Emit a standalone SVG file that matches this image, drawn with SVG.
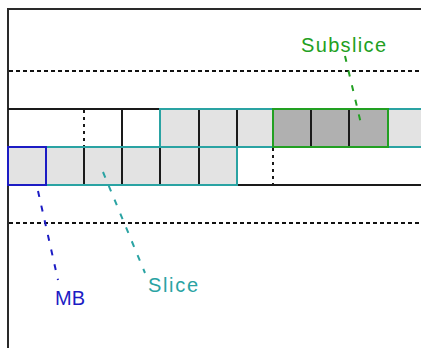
<svg xmlns="http://www.w3.org/2000/svg" width="421" height="348" viewBox="0 0 421 348">
  <style>
    .frame { fill: none; stroke: #2a2a2a; stroke-width: 2; }
    .grid { fill: none; stroke: #111; stroke-width: 2; stroke-dasharray: 4 3; }
    .div { stroke: #1a1a1a; stroke-width: 2; }
    .ddiv { stroke: #1a1a1a; stroke-width: 2; stroke-dasharray: 3 4; }
    .light { fill: #e3e3e3; }
    .dark { fill: #b0b0b0; }
    .slice { fill: none; stroke: #2aa3a3; stroke-width: 2; }
    .mb { fill: none; stroke: #1c1cc4; stroke-width: 2; }
    .sub { fill: none; stroke: #22a022; stroke-width: 2; }
    .lead { fill: none; stroke-width: 2; stroke-dasharray: 6 9; }
    .lbl { font-family: "Liberation Sans", Arial, sans-serif; font-size: 20px; }
  </style>

  <!-- frame and row guides -->
  <g id="frame">
    <path class="frame" d="M8 348 V9 H421"/>
    <line class="grid" x1="9" y1="71" x2="421" y2="71"/>
    <line class="grid" x1="9" y1="223" x2="421" y2="223"/>
  </g>

  <!-- upper row of macroblocks -->
  <g id="row1">
    <line class="div" x1="8" y1="109" x2="160" y2="109"/>
    <line class="ddiv" x1="84" y1="110" x2="84" y2="147"/>
    <line class="div" x1="122" y1="109" x2="122" y2="147"/>
    <rect class="light" x="160" y="109" width="261" height="38"/>
    <rect class="dark" x="273" y="109" width="115" height="38"/>
    <line class="div" x1="199" y1="109" x2="199" y2="147"/>
    <line class="div" x1="237" y1="109" x2="237" y2="147"/>
    <line class="div" x1="311" y1="109" x2="311" y2="147"/>
    <line class="div" x1="349" y1="109" x2="349" y2="147"/>
  </g>

  <!-- slice in the upper row -->
  <g id="slice-upper">
    <path class="slice" d="M422 109 H160 V147 H422"/>
  </g>

  <!-- subslice -->
  <g id="subslice">
    <rect class="sub" x="273" y="109" width="115" height="38"/>
  </g>

  <!-- lower row of macroblocks -->
  <g id="row2">
    <rect class="light" x="8" y="147" width="229" height="38"/>
    <line class="div" x1="84" y1="147" x2="84" y2="185"/>
    <line class="div" x1="122" y1="147" x2="122" y2="185"/>
    <line class="div" x1="160" y1="147" x2="160" y2="185"/>
    <line class="div" x1="199" y1="147" x2="199" y2="185"/>
    <line class="ddiv" x1="273" y1="148" x2="273" y2="185"/>
    <line class="div" x1="237" y1="185" x2="421" y2="185"/>
  </g>

  <!-- slice in the lower row -->
  <g id="slice-lower">
    <rect class="slice" x="46" y="147" width="191" height="38"/>
  </g>

  <!-- single macroblock -->
  <g id="mb">
    <rect class="mb" x="8" y="147" width="38" height="38"/>
  </g>

  <!-- label leaders -->
  <g id="connectors">
    <line class="lead" stroke="#22a022" x1="345" y1="56" x2="362" y2="128"/>
    <line class="lead" stroke="#1c1cc4" x1="38" y1="191" x2="58" y2="280"/>
    <line class="lead" stroke="#2aa3a3" x1="103" y1="172" x2="145" y2="273"/>
  </g>

  <!-- labels -->
  <g id="labels">
    <text class="lbl" fill="#22a022" x="301" y="52" textLength="85" lengthAdjust="spacing">Subslice</text>
    <text class="lbl" fill="#1c1cc4" x="55" y="305" textLength="30" lengthAdjust="spacing">MB</text>
    <text class="lbl" fill="#2aa3a3" x="148" y="292" textLength="50" lengthAdjust="spacing">Slice</text>
  </g>
</svg>
